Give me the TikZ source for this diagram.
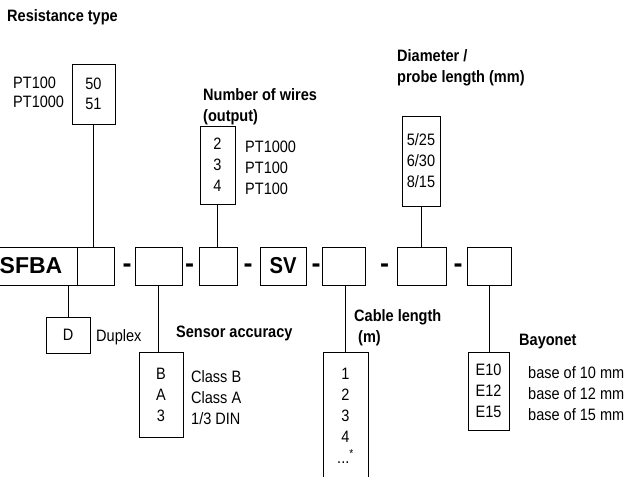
\documentclass[tikz,border=0pt]{standalone}
\usepackage{fontspec}
\setmainfont[FakeStretch=0.88]{Liberation Sans}
\newfontfamily\rkwide{Liberation Sans}
\newcommand\rkfs{\fontsize{16.5}{21}\selectfont}
\newcommand\rkfsr{\fontsize{16.5}{19.5}\selectfont}
\newcommand\rkfsb{\fontsize{16.5}{21}\selectfont\bfseries}
\newcommand\rkfsbig{\fontsize{23}{24}\selectfont\bfseries}
\newcommand\rkfswide{\rkwide\fontsize{23}{24}\selectfont\bfseries}
\newcommand\rkfsdash{\rkwide\fontsize{27}{28}\selectfont\bfseries}
\begin{document}
\begin{tikzpicture}[x=1pt,y=-1pt,
  box/.style={draw, line width=0.8pt, inner sep=0pt, align=center, font=\rkfs},
  lbl/.style={inner sep=0pt, align=left, anchor=west, font=\rkfs},
  ttl/.style={inner sep=0pt, align=left, anchor=west, font=\rkfsb},
  dsh/.style={inner sep=0pt, font=\rkfsdash},
  con/.style={line width=0.8pt}]
\useasboundingbox (0,0) rectangle (630,477);

% main row
\node[box, font=\rkfswide, minimum width=87, minimum height=38] (sfba) at (33.5,266) {\hspace{-5pt}SFBA};
\node[box, minimum width=37, minimum height=38] (b1) at (95.5,266) {};
\node[box, minimum width=47, minimum height=38] (b2) at (158.5,266) {};
\node[box, minimum width=38, minimum height=38] (b3) at (218,266) {};
\node[box, font=\rkfsbig, minimum width=46, minimum height=38] (sv) at (283,266) {SV};
\node[box, minimum width=43, minimum height=38] (b5) at (343.5,266) {};
\node[box, minimum width=49, minimum height=38] (b6) at (421.5,266) {};
\node[box, minimum width=44, minimum height=38] (b7) at (489,266) {};

\node[dsh] (d1) at (127,268) {-};
\node[dsh] (d2) at (189.5,268) {-};
\node[dsh] (d3) at (248,268) {-};
\node[dsh] (d4) at (316,268) {-};
\node[dsh] (d5) at (384.5,268) {-};
\node[dsh] (d6) at (458,268) {-};

% upper boxes
\node[box, font=\rkfsr, minimum width=43, minimum height=60] (res) at (93.5,94) {50\\51};
\node[box, minimum width=35, minimum height=78] (wires) at (217.5,165) {2\\3\\4};
\node[box, minimum width=38, minimum height=90] (diam) at (421,161) {5/25\\6/30\\8/15};

% lower boxes
\node[box, minimum width=44, minimum height=36] (dup) at (68,335) {D};
\node[box, minimum width=44, minimum height=85] (acc) at (161,394.5) {B\\A\\3};
\node[box, minimum width=41, minimum height=78] (bay) at (488.5,391) {E10\\E12\\E15};
\node[box, minimum width=45, minimum height=148] (cab) at (345.5,426) {};
\node[inner sep=0pt, align=center, font=\rkfs] (cabvals) at (345.5,416) {1\\2\\3\\4\\...\textsuperscript{*}};

% connectors
\draw[con] (res.south) -- (res.south |- b1.north);
\draw[con] (wires.south) -- (wires.south |- b3.north);
\draw[con] (diam.south) -- (diam.south |- b6.north);
\draw[con] (dup.north) -- (dup.north |- sfba.south);
\draw[con] (b2.south) -- (b2.south |- acc.north);
\draw[con] (cab.north) -- (cab.north |- b5.south);
\draw[con] (b7.south) -- (b7.south |- bay.north);

% titles
\node[ttl] (t1) at (7,17) {Resistance type};
\node[ttl] (t2) at (203,107) {Number of wires\\(output)};
\node[ttl] (t3) at (397,68) {Diameter /\\probe length (mm)};
\node[ttl] (t4) at (176,333) {Sensor accuracy};
\node[ttl] (t5) at (354,328) {Cable length\\\hspace{4pt}(m)};
\node[ttl] (t6) at (519,342) {Bayonet};

% side labels
\node[lbl, font=\rkfsr] (l1) at (13,92.5) {PT100\\PT1000};
\node[lbl] (l2) at (245,167.5) {PT1000\\PT100\\PT100};
\node[lbl] (l3) at (96,337) {Duplex};
\node[lbl] (l4) at (191,397.5) {Class B\\Class A\\1/3 DIN};
\node[lbl] (l5) at (528,394) {base of 10 mm\\base of 12 mm\\base of 15 mm};
\end{tikzpicture}
\end{document}
